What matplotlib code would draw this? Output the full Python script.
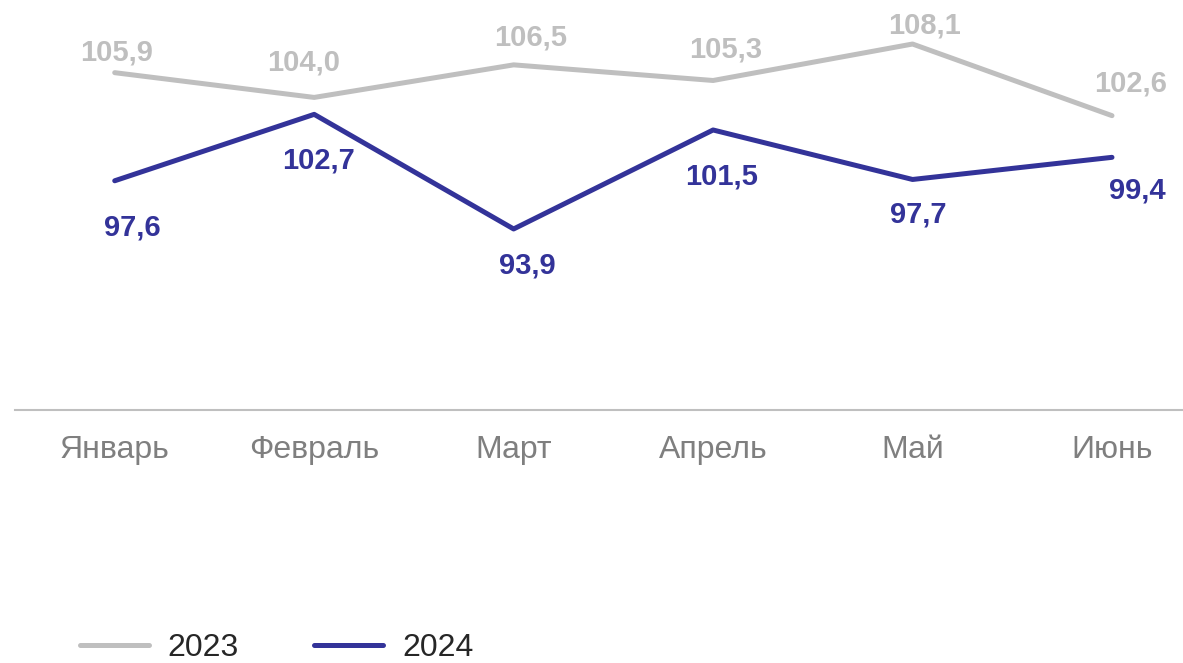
import matplotlib
matplotlib.use('Agg')
import matplotlib.pyplot as plt

plt.rcParams['font.family'] = ['Liberation Sans', 'DejaVu Sans']

months = ['Январь', 'Февраль', 'Март', 'Апрель', 'Май', 'Июнь']
y2023 = [105.9, 104.0, 106.5, 105.3, 108.1, 102.6]
y2024 = [97.6, 102.7, 93.9, 101.5, 97.7, 99.4]

# label offsets in pixels (hand placed like in the original)
off2023 = [(2, 20), (-11, 35), (17, 27), (13, 31), (12, 19), (19, 32)]
off2024 = [(18, -47), (4, -46), (14, -37), (8, -47), (6, -35), (25, -33)]

c2023 = '#BFBFBF'
c2024 = '#333399'

W, H = 1183, 663
fig = plt.figure(figsize=(W / 100, H / 100), dpi=100)
ax = fig.add_axes([15 / W, 1 - 410 / H, 1 - 15 / W, 410 / H])

x = list(range(len(months)))
ax.plot(x, y2023, color=c2023, lw=3.6, solid_capstyle='round', label='2023')
ax.plot(x, y2024, color=c2024, lw=3.6, solid_capstyle='round', label='2024')

for i in x:
    ax.annotate(f'{y2023[i]:.1f}'.replace('.', ','), (i, y2023[i]), xytext=off2023[i],
                textcoords='offset pixels', ha='center', va='center',
                fontsize=21, fontweight='bold', color=c2023)
    ax.annotate(f'{y2024[i]:.1f}'.replace('.', ','), (i, y2024[i]), xytext=off2024[i],
                textcoords='offset pixels', ha='center', va='center',
                fontsize=21, fontweight='bold', color=c2024)

ax.set_xlim(-0.5, (W - 115) / 199.4)
ax.set_ylim(80, 111.48)
ax.set_xticks(x)
ax.set_xticklabels(months, fontsize=23, color='#7F7F7F')
ax.tick_params(axis='x', length=0, pad=18)
ax.set_yticks([])
for s in ['top', 'right', 'left']:
    ax.spines[s].set_visible(False)
ax.spines['bottom'].set_color(c2023)
ax.spines['bottom'].set_linewidth(1.5)

fig.legend(loc='center left', bbox_to_anchor=(80 / W, 1 - 648 / H), ncol=2, frameon=False,
           fontsize=23, handlelength=2.15, handletextpad=0.6, columnspacing=2.35,
           borderpad=0, borderaxespad=0, labelcolor='#262626')

plt.savefig('out.png', dpi=100)
